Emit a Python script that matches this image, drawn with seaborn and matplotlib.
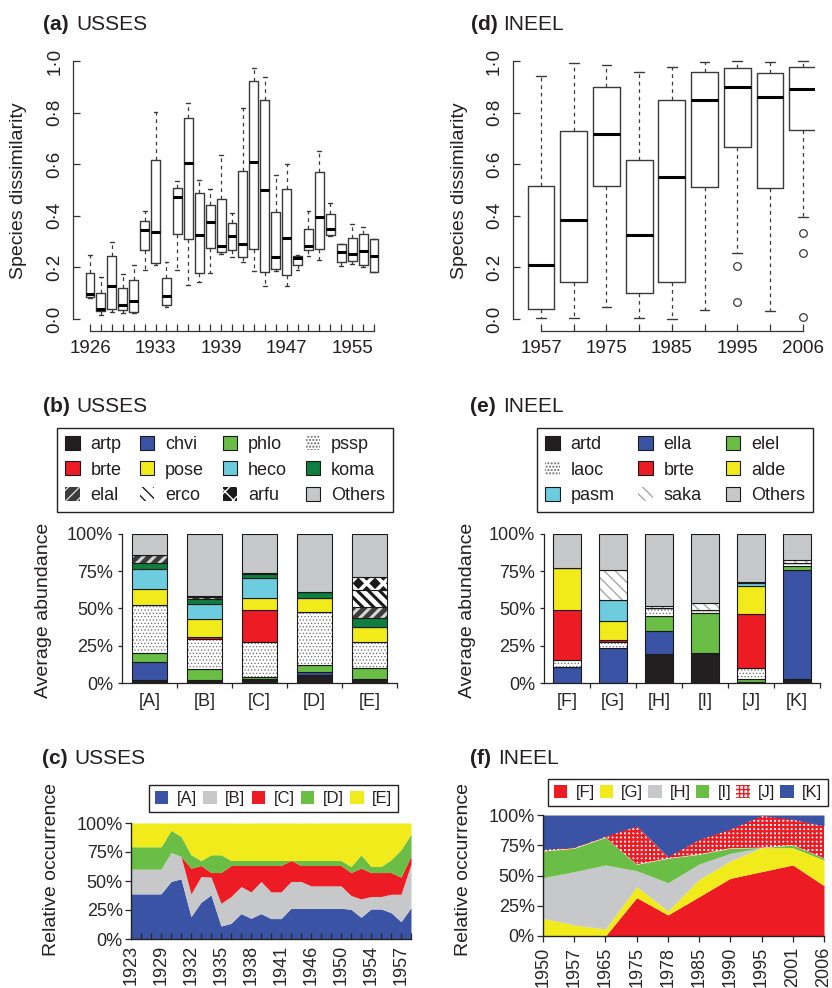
import numpy as np
import pandas as pd
import seaborn as sns
import matplotlib as mpl
import matplotlib.pyplot as plt

# ---------------- data ----------------
# (a) USSES: dissimilarity boxplots, 27 census years
usses_years = ["1926", "", "", "", "", "", "1933", "", "", "", "", "", "1939", "",
               "", "", "", "", "1947", "", "", "", "", "", "1955", "", ""]
a_lo = [0.081, 0.017, 0.027, 0.023, 0.023, 0.191, 0.208, 0.046, 0.191, 0.133, 0.142, 0.178, 0.253, 0.239,
        0.221, 0.187, 0.126, 0.187, 0.126, 0.191, 0.246, 0.230, 0.323, 0.204, 0.213, 0.200, 0.182]
a_q1 = [0.084, 0.030, 0.040, 0.034, 0.027, 0.266, 0.217, 0.055, 0.329, 0.311, 0.178, 0.275, 0.259, 0.266,
        0.239, 0.271, 0.182, 0.195, 0.172, 0.208, 0.268, 0.271, 0.326, 0.219, 0.223, 0.208, 0.182]
a_med = [0.095, 0.040, 0.126, 0.055, 0.068, 0.346, 0.337, 0.088, 0.472, 0.606, 0.324, 0.377, 0.284, 0.320,
         0.292, 0.610, 0.501, 0.239, 0.315, 0.236, 0.284, 0.397, 0.350, 0.258, 0.253, 0.262, 0.245]
a_q3 = [0.178, 0.100, 0.246, 0.119, 0.150, 0.379, 0.617, 0.159, 0.507, 0.778, 0.488, 0.443, 0.465, 0.374,
        0.573, 0.923, 0.849, 0.415, 0.503, 0.245, 0.348, 0.570, 0.406, 0.290, 0.314, 0.330, 0.310]
a_hi = [0.249, 0.161, 0.300, 0.175, 0.208, 0.417, 0.804, 0.219, 0.533, 0.836, 0.539, 0.505, 0.636, 0.410,
        0.817, 0.974, 0.939, 0.559, 0.600, 0.249, 0.417, 0.653, 0.449, 0.290, 0.368, 0.355, 0.310]

# (d) INEEL: dissimilarity boxplots
ineel_years = ["1957", "", "1975", "", "1985", "", "1995", "", "2006"]
d_lo = [0.004, 0.004, 0.045, 0.004, 0.000, 0.036, 0.255, 0.032, 0.394]
d_q1 = [0.040, 0.142, 0.517, 0.100, 0.142, 0.511, 0.668, 0.507, 0.733]
d_med = [0.208, 0.385, 0.716, 0.326, 0.552, 0.849, 0.900, 0.862, 0.892]
d_q3 = [0.517, 0.729, 0.900, 0.617, 0.849, 0.959, 0.972, 0.955, 0.975]
d_hi = [0.943, 0.991, 0.985, 0.959, 0.975, 0.995, 1.000, 0.997, 1.000]
d_out = [[], [], [], [], [], [], [0.204, 0.067], [], [0.333, 0.255, 0.006]]

# (b) USSES average abundance (%) per group
usses_species = ["artp", "chvi", "phlo", "pssp", "brte", "pose", "heco", "koma", "elal", "erco", "arfu", "Others"]
usses_groups = ["[A]", "[B]", "[C]", "[D]", "[E]"]
ab_A = [2.2, 11.6, 6.3, 32.4, 0.0, 10.5, 13.3, 4.1, 5.6, 0.0, 0.0, 14.0]
ab_B = [1.8, 0.0, 7.6, 20.1, 1.3, 12.1, 10.0, 3.4, 1.3, 0.9, 0.0, 41.5]
ab_C = [2.7, 0.0, 1.1, 23.4, 21.9, 7.8, 13.4, 2.7, 1.1, 0.0, 0.0, 25.9]
ab_D = [5.6, 1.5, 5.2, 35.2, 0.0, 9.4, 0.0, 4.3, 0.0, 0.0, 0.0, 38.8]
ab_E = [2.7, 0.0, 7.3, 17.5, 0.0, 10.4, 0.0, 5.6, 7.2, 11.8, 8.5, 29.0]

# (e) INEEL average abundance (%) per group
ineel_species = ["artd", "ella", "elel", "laoc", "brte", "alde", "pasm", "saka", "Others"]
ineel_groups = ["[F]", "[G]", "[H]", "[I]", "[J]", "[K]"]
ab_F = [0.0, 10.7, 0.0, 4.9, 33.1, 28.3, 0.0, 0.0, 23.0]
ab_G = [0.0, 23.4, 0.0, 4.0, 1.2, 12.7, 14.7, 19.9, 24.1]
ab_H = [19.6, 15.0, 10.7, 5.1, 0.0, 0.0, 0.0, 1.2, 48.4]
ab_I = [20.3, 0.0, 26.8, 1.6, 0.0, 0.0, 0.0, 4.9, 46.4]
ab_J = [0.7, 0.0, 2.2, 7.1, 36.0, 19.4, 1.6, 0.6, 32.4]
ab_K = [2.9, 73.2, 2.2, 2.5, 0.0, 0.0, 0.0, 1.8, 17.4]

# (c) USSES relative occurrence (%) of groups over census years
usses_census = ["1923", "", "", "1929", "", "", "1932", "", "", "1935", "", "", "1938", "", "",
                "1941", "", "", "1946", "", "", "1950", "", "", "1954", "", "", "1957", ""]
occ_A = [38.9, 38.9, 38.9, 38.9, 49.6, 51.9, 19.3, 31.7, 38.0, 11.2, 13.5, 21.9, 17.9, 21.9, 17.6,
         17.6, 26.5, 26.5, 26.5, 26.5, 26.5, 26.5, 25.6, 18.7, 25.9, 25.9, 22.8, 15.0, 27.0]
occ_B = [21.3, 21.3, 21.3, 21.3, 25.0, 19.3, 19.6, 22.2, 15.3, 19.6, 23.1, 23.3, 22.7, 27.7, 23.0,
         23.0, 23.1, 23.1, 19.3, 19.3, 19.3, 19.3, 11.9, 15.9, 10.7, 10.7, 15.8, 23.6, 37.6]
occ_C = [0.0, 0.0, 0.0, 0.0, 0.0, 0.0, 22.2, 9.5, 4.0, 26.5, 26.8, 18.2, 22.8, 13.8, 22.8,
         22.8, 18.1, 13.8, 17.6, 17.6, 17.6, 17.6, 19.8, 26.5, 20.7, 20.7, 18.7, 14.7, 7.4]
occ_D = [19.3, 19.3, 19.3, 19.3, 19.1, 17.3, 11.5, 4.3, 15.3, 15.3, 4.3, 4.3, 4.3, 4.3, 4.3,
         4.3, 0.0, 4.3, 4.3, 4.3, 4.3, 4.3, 5.2, 11.5, 5.2, 5.2, 11.0, 23.7, 18.5]
occ_E = [20.5, 20.5, 20.5, 20.5, 6.3, 11.5, 27.4, 32.3, 27.4, 27.4, 32.3, 32.3, 32.3, 32.3, 32.3,
         32.3, 32.3, 32.3, 32.3, 32.3, 32.3, 32.3, 37.5, 27.4, 37.5, 37.5, 31.7, 23.0, 9.5]

# (f) INEEL relative occurrence (%) of groups
ineel_census = ["1950", "1957", "1965", "1975", "1978", "1985", "1990", "1995", "2001", "2006"]
occ_F = [0.0, 0.0, 0.0, 31.7, 17.4, 32.5, 47.7, 53.2, 58.7, 41.6]
occ_G = [14.6, 9.1, 5.8, 9.1, 3.3, 14.3, 14.3, 19.8, 14.3, 21.2]
occ_H = [33.6, 44.1, 52.9, 13.2, 23.3, 12.7, 6.3, 0.0, 0.0, 0.0]
occ_I = [22.0, 19.3, 22.8, 5.2, 20.2, 8.0, 4.2, 0.0, 2.2, 1.4]
occ_J = [1.3, 1.0, 1.0, 31.7, 1.4, 12.4, 15.9, 26.4, 21.2, 26.7]
occ_K = [28.5, 26.5, 17.5, 9.1, 34.4, 20.1, 11.6, 0.6, 3.6, 9.1]

# ---------------- styles ----------------
BLACK, BLUE, LGREEN, RED = "#231F20", "#3A53A4", "#6ABD45", "#ED1C24"
YELLOW, CYAN, DGREEN, GRAY = "#F2EB1B", "#6DCCDE", "#0F7F3F", "#C7C8CA"
TXT = "#231F20"

# face, hatch, hatch colour, hatch line width
usses_style = {
    "artp": (BLACK, None, None, 0), "chvi": (BLUE, None, None, 0), "phlo": (LGREEN, None, None, 0),
    "pssp": ("white", ".....", "#6a6a6a", 0.5), "brte": (RED, None, None, 0),
    "pose": (YELLOW, None, None, 0), "heco": (CYAN, None, None, 0), "koma": (DGREEN, None, None, 0),
    "elal": ("#3c3c3c", "///", "#d5d5d5", 2.2), "erco": ("white", "\\\\\\", "#1a1a1a", 2.2),
    "arfu": ("#1a1a1a", "xx", "white", 2.6), "Others": (GRAY, None, None, 0),
}
ineel_style = {
    "artd": (BLACK, None, None, 0), "ella": (BLUE, None, None, 0), "elel": (LGREEN, None, None, 0),
    "laoc": ("white", ".....", "#6a6a6a", 0.5), "brte": (RED, None, None, 0),
    "alde": (YELLOW, None, None, 0), "pasm": (CYAN, None, None, 0),
    "saka": ("white", "\\\\\\", "#a8a8a8", 1.0), "Others": (GRAY, None, None, 0),
}

sns.set_theme(style="ticks")
plt.rcParams["font.family"] = ["Liberation Sans", "DejaVu Sans"]
plt.rcParams["text.color"] = TXT

W, H = 832, 988
fig = plt.figure(figsize=(W / 100, H / 100), dpi=100)


def add_ax(l, t, r, b):
    return fig.add_axes([l / W, 1 - b / H, (r - l) / W, (b - t) / H])


def title(x_tag, x_name, y, tag, name):
    fig.text(x_tag / W, 1 - y / H, tag, fontsize=15, fontweight="bold", va="baseline")
    fig.text(x_name / W, 1 - y / H, name, fontsize=15, va="baseline")


def ylab(x, y, text):
    fig.text(x / W, 1 - y / H, text, fontsize=14, rotation=90, ha="center", va="center")


def boxes(ax, lo, q1, med, q3, hi, out, width, capw):
    stats = [dict(whislo=a, q1=b, med=c, q3=d, whishi=e, fliers=f)
             for a, b, c, d, e, f in zip(lo, q1, med, q3, hi, out)]
    ax.bxp(stats, positions=np.arange(len(stats)), widths=width, capwidths=capw,
           boxprops=dict(color="#3a3a3a", lw=1.0),
           medianprops=dict(color="black", lw=2.2, solid_capstyle="butt"),
           whiskerprops=dict(color="#3a3a3a", lw=0.9, ls=(0, (3, 3))),
           capprops=dict(color="#3a3a3a", lw=1.0),
           flierprops=dict(marker="o", mfc="none", mec="#3a3a3a", ms=5.5, mew=0.9))


def box_axes(ax, labels, xpad_left):
    ax.set_yticks([0, 0.2, 0.4, 0.6, 0.8, 1.0])
    ax.set_xticks(np.arange(len(labels)))
    sns.despine(ax=ax, offset={"left": xpad_left, "bottom": 4.3}, trim=True)
    ax.set_yticklabels(["0·0", "0·2", "0·4", "0·6", "0·8", "1·0"], rotation=90, va="center")
    ax.set_xticklabels(labels)
    ax.tick_params(direction="in", length=5, width=0.9, labelsize=13.5, colors="#333333", labelcolor=TXT)
    ax.tick_params(axis="x", pad=6.5)
    ax.tick_params(axis="y", pad=7)
    for s in ("left", "bottom"):
        ax.spines[s].set_linewidth(0.9)
        ax.spines[s].set_color("#333333")


# ---- (a)
ax_a = add_ax(80, 55, 380, 325)
boxes(ax_a, a_lo, a_q1, a_med, a_q3, a_hi, [[]] * len(a_lo), 0.82, 0.35)
ax_a.set_ylim(-6 / 258, 1 + 6 / 258)
ax_a.set_xlim(-10 / 10.923, 26 + 6 / 10.923)
box_axes(ax_a, usses_years, 5.0)
title(43, 76, 30, "(a)", "USSES")
ylab(19, 191, "Species dissimilarity")

# ---- (d)
ax_d = add_ax(520, 55, 815, 325)
boxes(ax_d, d_lo, d_q1, d_med, d_q3, d_hi, d_out, 0.82, 0.3)
ax_d.set_ylim(-6 / 258, 1 + 6 / 258)
ax_d.set_xlim(-21 / 32.71, 8 + 12.3 / 32.71)
box_axes(ax_d, ineel_years, 5.3)
title(471, 503, 30, "(d)", "INEEL")
ylab(459, 191, "Species dissimilarity")


# ---- stacked bars
def stacked(ax, groups, species, rows, style, width):
    df = pd.DataFrame(rows, index=groups, columns=species)
    x = np.arange(len(groups))
    bottom = np.zeros(len(groups))
    for sp in species:
        fc, hatch, hc, hlw = style[sp]
        vals = df[sp].values
        if hatch:
            with mpl.rc_context({"hatch.linewidth": hlw}):
                ax.bar(x, vals, width=width, bottom=bottom, color=fc, hatch=hatch,
                       edgecolor=hc, lw=0, label=sp)
            ax.bar(x, vals, width=width, bottom=bottom, fill=False, edgecolor="#1a1a1a", lw=0.8)
        else:
            ax.bar(x, vals, width=width, bottom=bottom, color=fc, edgecolor="#1a1a1a", lw=0.8, label=sp)
        bottom += vals
    ax.set_xlim(-0.5, len(groups) - 0.5)
    ax.set_ylim(0, 100)
    ax.set_yticks([0, 25, 50, 75, 100])
    ax.set_yticklabels(["0%", "25%", "50%", "75%", "100%"])
    ax.set_xticks(x)
    ax.set_xticklabels(groups)
    ax.set_xticks(np.arange(len(groups)) + 0.5, minor=True)
    sns.despine(ax=ax)
    ax.tick_params(axis="y", direction="out", length=3, width=0.9, labelsize=13, pad=3.5)
    ax.tick_params(axis="x", which="major", length=0, labelsize=13, pad=7)
    ax.tick_params(axis="x", which="minor", direction="out", length=3.5, width=0.9)
    for s in ("left", "bottom"):
        ax.spines[s].set_linewidth(0.9)
        ax.spines[s].set_color("#222222")


def legend(ax, ncol, box, fontsize, **kw):
    h, l = ax.get_legend_handles_labels()
    nrow = int(np.ceil(len(h) / ncol))
    order = [r * ncol + c for c in range(ncol) for r in range(nrow) if r * ncol + c < len(h)]
    x0, y0, x1, y1 = box
    leg = ax.legend([h[i] for i in order], [l[i] for i in order], ncol=ncol, loc="upper left",
                    bbox_to_anchor=(x0 / W, 1 - y1 / H, (x1 - x0) / W, (y1 - y0) / H),
                    bbox_transform=fig.transFigure, mode="expand", frameon=True, fancybox=False,
                    edgecolor="#222222", framealpha=1, fontsize=fontsize, borderaxespad=0, **kw)
    leg.get_frame().set_linewidth(1.0)
    return leg


ax_b = add_ax(122, 534, 397, 683)
stacked(ax_b, usses_groups, usses_species, [ab_A, ab_B, ab_C, ab_D, ab_E], usses_style, 0.64)
legend(ax_b, 4, (57, 428, 393, 515), 13, handlelength=0.8, handleheight=0.8,
       handletextpad=0.6, labelspacing=0.45, borderpad=0.45)
title(43, 76, 412, "(b)", "USSES")
ylab(44, 610, "Average abundance")

ax_e = add_ax(544, 534, 820, 683)
stacked(ax_e, ineel_groups, ineel_species, [ab_F, ab_G, ab_H, ab_I, ab_J, ab_K], ineel_style, 0.63)
legend(ax_e, 3, (537, 428, 813, 515), 13, handlelength=0.8, handleheight=0.8,
       handletextpad=0.6, labelspacing=0.45, borderpad=0.45)
title(470, 503, 412, "(e)", "INEEL")
ylab(468, 610, "Average abundance")


# ---- stacked areas
def areas(ax, layers, names, styles, labels, tickdir):
    x = np.arange(len(labels))
    base = np.zeros(len(labels))
    for name, vals in zip(names, layers):
        fc, ec, hatch = styles[name]
        top = base + np.array(vals)
        with mpl.rc_context({"hatch.linewidth": 1.6}):
            ax.fill_between(x, base, top, facecolor=fc, edgecolor=ec, hatch=hatch, lw=0, label=name)
        base = top
    ax.set_xlim(0, len(labels) - 1)
    ax.set_ylim(0, 100)
    ax.set_yticks([0, 25, 50, 75, 100])
    ax.set_yticklabels(["0%", "25%", "50%", "75%", "100%"])
    ax.set_xticks(x)
    ax.set_xticklabels(labels, rotation=90, va="top", ha="center", fontsize=13)
    sns.despine(ax=ax)
    ax.tick_params(axis="y", direction="out", length=4, width=0.9, labelsize=13, pad=2)
    ax.tick_params(axis="x", direction=tickdir, length=4, width=0.9, pad=4)
    for s in ("left", "bottom"):
        ax.spines[s].set_linewidth(1.0)
        ax.spines[s].set_color("#222222")
    ax.set_axisbelow(False)


c_style = {"[A]": (BLUE, BLUE, None), "[B]": (GRAY, GRAY, None), "[C]": (RED, RED, None),
           "[D]": (LGREEN, LGREEN, None), "[E]": (YELLOW, YELLOW, None)}
ax_c = add_ax(131, 823, 411, 939)
areas(ax_c, [occ_A, occ_B, occ_C, occ_D, occ_E], usses_groups, c_style, usses_census, "in")
legend(ax_c, 5, (149, 785, 398, 814), 12, handlelength=0.8, handleheight=0.8,
       handletextpad=0.5, borderpad=0.35, columnspacing=0.9)
title(42, 74, 764, "(c)", "USSES")
ylab(52, 869, "Relative occurrence")

f_style = {"[F]": (RED, RED, None), "[G]": (YELLOW, YELLOW, None), "[H]": (GRAY, GRAY, None),
           "[I]": (LGREEN, LGREEN, None), "[J]": ("white", RED, "++++"), "[K]": (BLUE, BLUE, None)}
ax_f = add_ax(543, 815, 824, 936)
areas(ax_f, [occ_F, occ_G, occ_H, occ_I, occ_J, occ_K], ineel_groups, f_style, ineel_census, "out")
legend(ax_f, 6, (548, 779, 828, 810), 12, handlelength=0.8, handleheight=0.8,
       handletextpad=0.5, borderpad=0.35, columnspacing=0.7)
title(470, 498, 764, "(f)", "INEEL")
ylab(464, 869, "Relative occurrence")

plt.savefig("out.png", dpi=100)
